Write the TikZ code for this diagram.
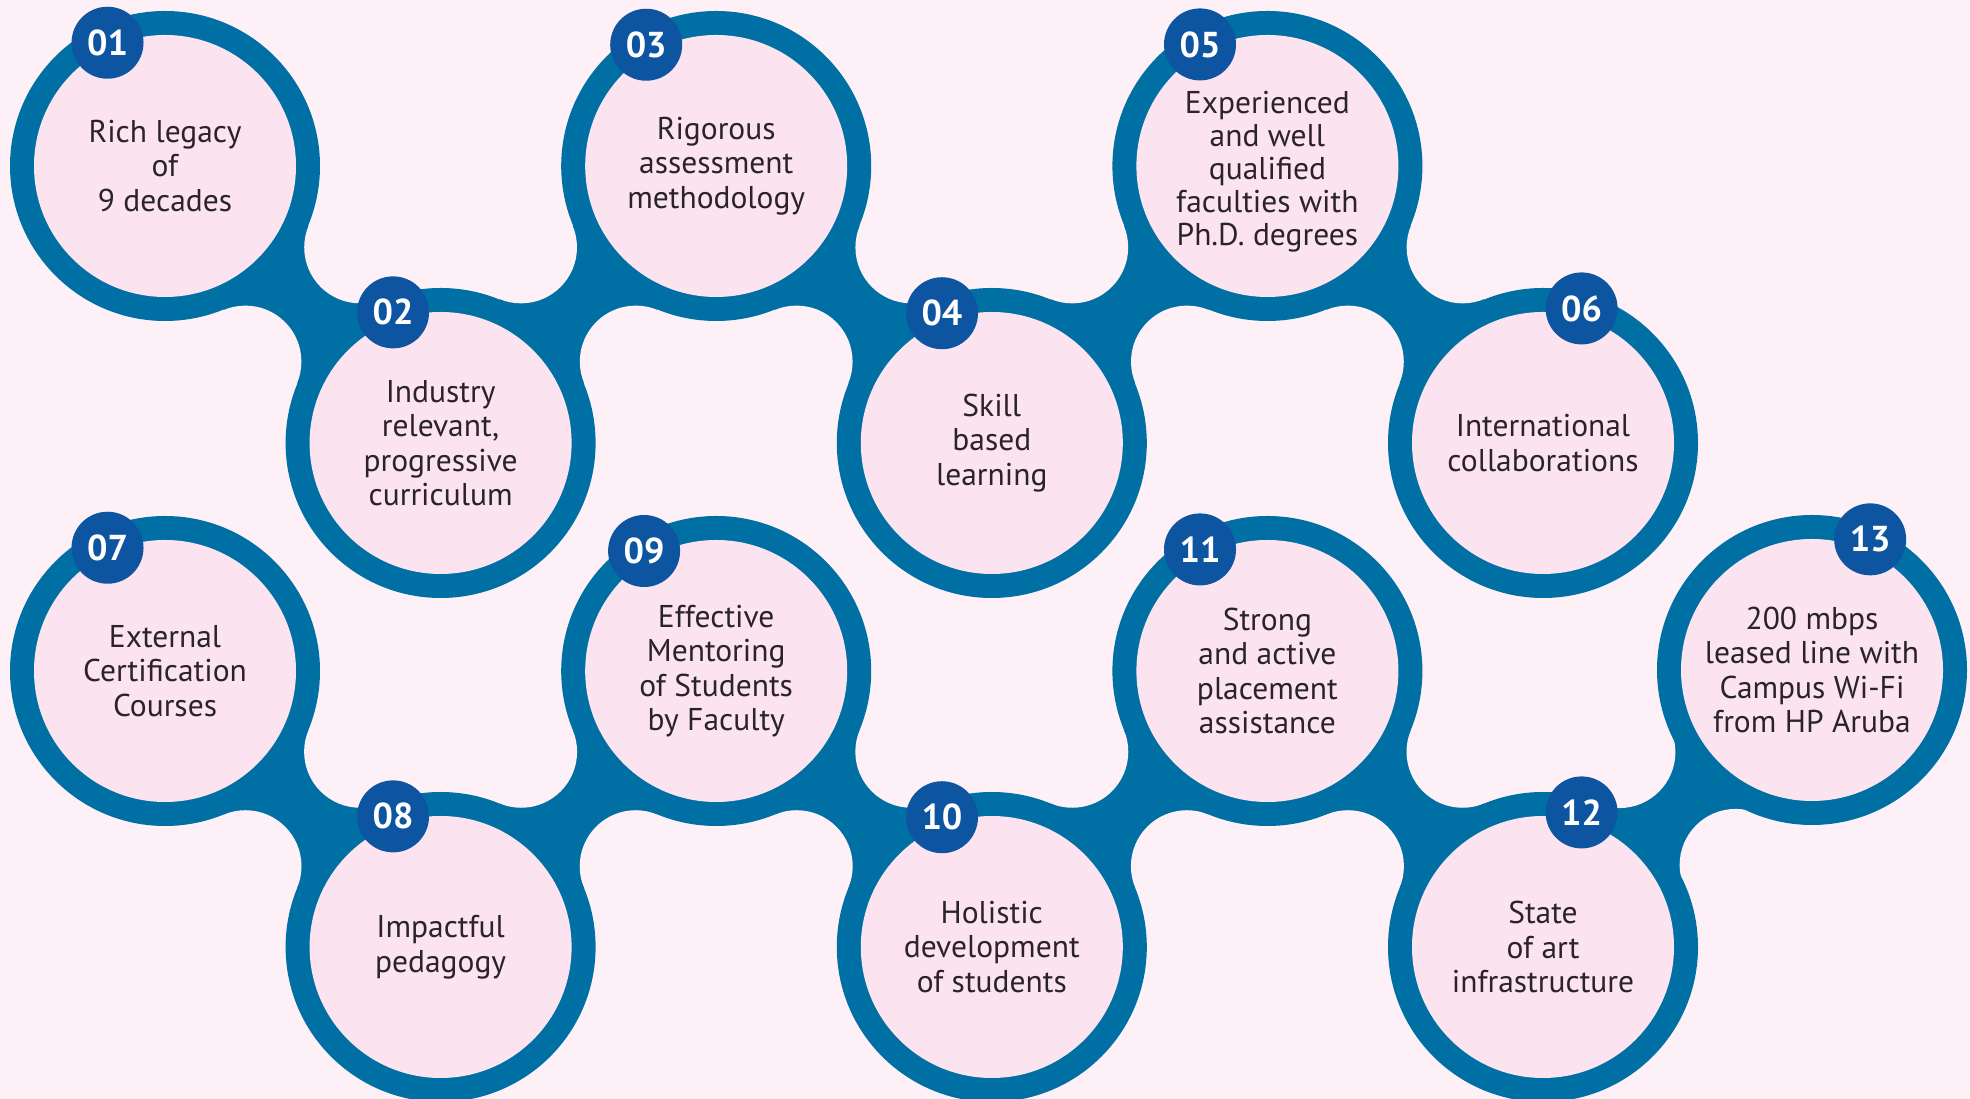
\documentclass[tikz,border=0pt]{standalone}
\usepackage{fontspec}
\setmainfont{PT Sans}
\usetikzlibrary{calc}
\definecolor{bgpink}{HTML}{FDF1F7}
\definecolor{ringblue}{HTML}{0070A4}
\definecolor{badgeblue}{HTML}{0E55A1}
\definecolor{innerpink}{HTML}{FBE4F0}
\definecolor{txtgray}{HTML}{2A2426}
\begin{document}
\begin{tikzpicture}[x=1pt,y=1pt,line join=round,
    item/.style={circle,fill=innerpink,minimum size=262pt,inner sep=0pt,align=center,
        text=txtgray,font=\fontsize{31.5}{34.5}\selectfont},
    badge/.style={circle,fill=badgeblue,minimum size=72pt,inner sep=0pt,text=white,
        font=\fontsize{36}{36}\selectfont\bfseries}]
    \fill[bgpink] (0,0) rectangle (1970,1099);
    \clip (0,0) rectangle (1970,1099);
    % centres
    \coordinate (c01) at (165,933);
    \coordinate (c02) at (440.6,656);
    \coordinate (c03) at (716.2,933);
    \coordinate (c04) at (991.8,656);
    \coordinate (c05) at (1267.4,933);
    \coordinate (c06) at (1543,656);
    \coordinate (c07) at (165,428);
    \coordinate (c08) at (440.6,152);
    \coordinate (c09) at (716.2,428);
    \coordinate (c10) at (991.8,152);
    \coordinate (c11) at (1267.4,428);
    \coordinate (c12) at (1543,152);
    \coordinate (c13) at (1812,429);
    % necks
    \foreach \a/\b in {01/02,02/03,03/04,04/05,05/06,07/08,08/09,09/10,10/11,11/12,12/13}{
        \fill[ringblue] (c\a) -- ($(c\a)!.5!(c\b)!81pt!90:(c\b)$) -- (c\b)
            -- ($(c\a)!.5!(c\b)!81pt!-90:(c\b)$) -- cycle;
    }
    \foreach \a/\b in {01/02,02/03,03/04,04/05,05/06,07/08,08/09,09/10,10/11,11/12,12/13}{
        \fill[bgpink] ($(c\a)!.5!(c\b)!81pt!90:(c\b)$) circle (56pt);
        \fill[bgpink] ($(c\a)!.5!(c\b)!81pt!-90:(c\b)$) circle (56pt);
    }
    \foreach \n in {01,02,03,04,05,06,07,08,09,10,11,12,13}
        \fill[ringblue] (c\n) circle (155pt);
    % items
    \node[item] (p01) at (c01) {Rich legacy\\of\\9 decades};
    \node[item] (p02) at (c02) {Industry\\relevant,\\progressive\\curriculum};
    \node[item] (p03) at (c03) {Rigorous\\assessment\\methodology};
    \node[item] (p04) at (c04) {Skill\\based\\learning};
    \node[item] (p05) at (c05) {};
    \node[align=center,text=txtgray,font=\fontsize{31.5}{33}\selectfont] (t05) at ($(c05)+(0,-6)$)
        {Experienced\\and well\\qualified\\faculties with\\Ph.D. degrees};
    \node[item] (p06) at (c06) {International\\collaborations};
    \node[item] (p07) at (c07) {External\\Certification\\Courses};
    \node[item] (p08) at (c08) {Impactful\\pedagogy};
    \node[item] (p09) at (c09) {Effective\\Mentoring\\of Students\\by Faculty};
    \node[item] (p10) at (c10) {Holistic\\development\\of students};
    \node[item] (p11) at (c11) {Strong\\and active\\placement\\assistance};
    \node[item] (p12) at (c12) {State\\of art\\infrastructure};
    \node[item] (p13) at (c13) {200 mbps\\leased line with\\Campus Wi-Fi\\from HP Aruba};
    % badges
    \foreach \n/\ang/\d in {01/115/136,02/110/139,03/120/140,04/111/139,05/119/139,06/74/140,
        07/115/136,08/110/139,09/121/140,10/111/139,11/119/139,12/74/140,13/66/143}
        \node[badge] (b\n) at ($(c\n)+(\ang:\d pt)$) {\n};
\end{tikzpicture}
\end{document}
